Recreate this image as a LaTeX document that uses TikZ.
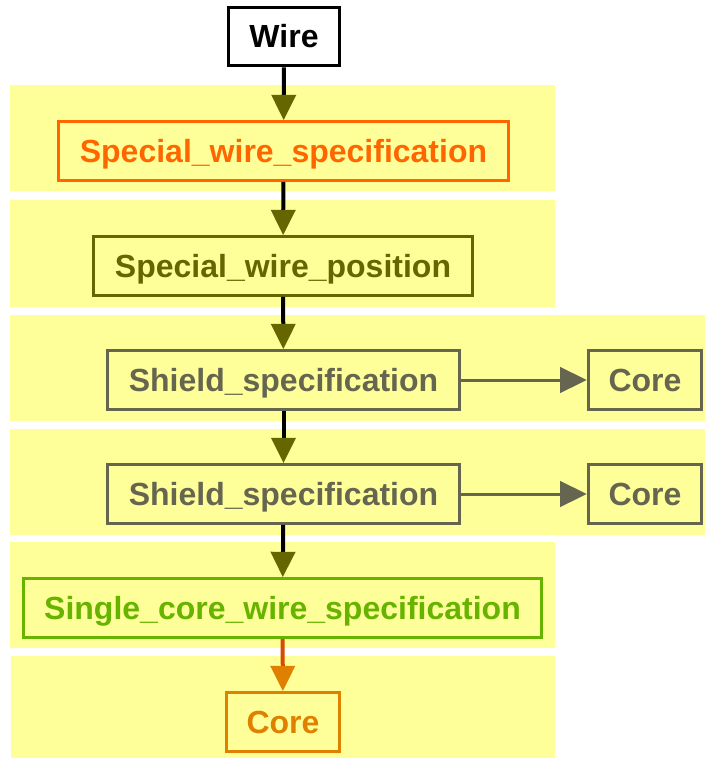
\documentclass[tikz,border=0pt]{standalone}
\usepackage{fontspec}
\setmainfont{Liberation Sans}
\usepackage{tikz}
\usetikzlibrary{arrows.meta}
\definecolor{bandyellow}{HTML}{FFFF99}
\definecolor{wireorange}{HTML}{FF6600}
\definecolor{posolive}{HTML}{666600}
\definecolor{shieldgray}{HTML}{666650}
\definecolor{singlegreen}{HTML}{66B300}
\definecolor{coreorange}{HTML}{E08000}
\definecolor{linkred}{HTML}{D84A00}

\begin{document}
\begin{tikzpicture}[x=0.75pt,y=-0.75pt,
  font=\fontsize{24}{28}\selectfont\bfseries,
  box/.style={draw, line width=2.25pt, inner sep=0pt, minimum height=44pt, text height=22.2pt, text depth=5pt},
  down/.style={line width=3pt, -{Triangle[width=18pt,length=19pt,color=posolive]}},
  side/.style={draw=shieldgray, line width=2.25pt, -{Triangle[width=19pt,length=20pt]}}]
  \useasboundingbox (0,0) rectangle (705,760);
  % bands
  \fill[bandyellow] (10,85) rectangle (555,191);
  \fill[bandyellow] (10,200) rectangle (555,307);
  \fill[bandyellow] (10,315) rectangle (705,421);
  \fill[bandyellow] (10,429) rectangle (705,535);
  \fill[bandyellow] (10,542) rectangle (555,648);
  \fill[bandyellow] (11,656) rectangle (555,758);
  % boxes
  \node[box, fill=white, minimum width=83pt] (wire) at (284,36.5) {Wire};
  \node[box, draw=wireorange, text=wireorange, minimum width=338pt] (sws) at (283.5,151) {Special\_wire\_specification};
  \node[box, draw=posolive, text=posolive, minimum width=284pt] (swp) at (283,266) {Special\_wire\_position};
  \node[box, draw=shieldgray, text=shieldgray, minimum width=264pt] (shieldA) at (283.5,380) {Shield\_specification};
  \node[box, draw=shieldgray, text=shieldgray, minimum width=85pt] (coreA) at (645,380) {Core};
  \node[box, draw=shieldgray, text=shieldgray, minimum width=264pt] (shieldB) at (283.5,494) {Shield\_specification};
  \node[box, draw=shieldgray, text=shieldgray, minimum width=85pt] (coreB) at (645,494) {Core};
  \node[box, draw=singlegreen, text=singlegreen, minimum width=389pt] (single) at (282.5,608) {Single\_core\_wire\_specification};
  \node[box, draw=coreorange, text=coreorange, minimum width=85pt] (coreC) at (283,722) {Core};
  % links
  \draw[down] (wire) -- (sws);
  \draw[down] (sws) -- (swp);
  \draw[down] (swp) -- (shieldA);
  \draw[down] (shieldA) -- (shieldB);
  \draw[down] (shieldB) -- (single);
  \draw[down, draw=linkred, -{Triangle[width=18pt,length=19pt,color=coreorange]}] (single) -- (coreC);
  \draw[side] (shieldA) -- (coreA);
  \draw[side] (shieldB) -- (coreB);
\end{tikzpicture}
\end{document}
